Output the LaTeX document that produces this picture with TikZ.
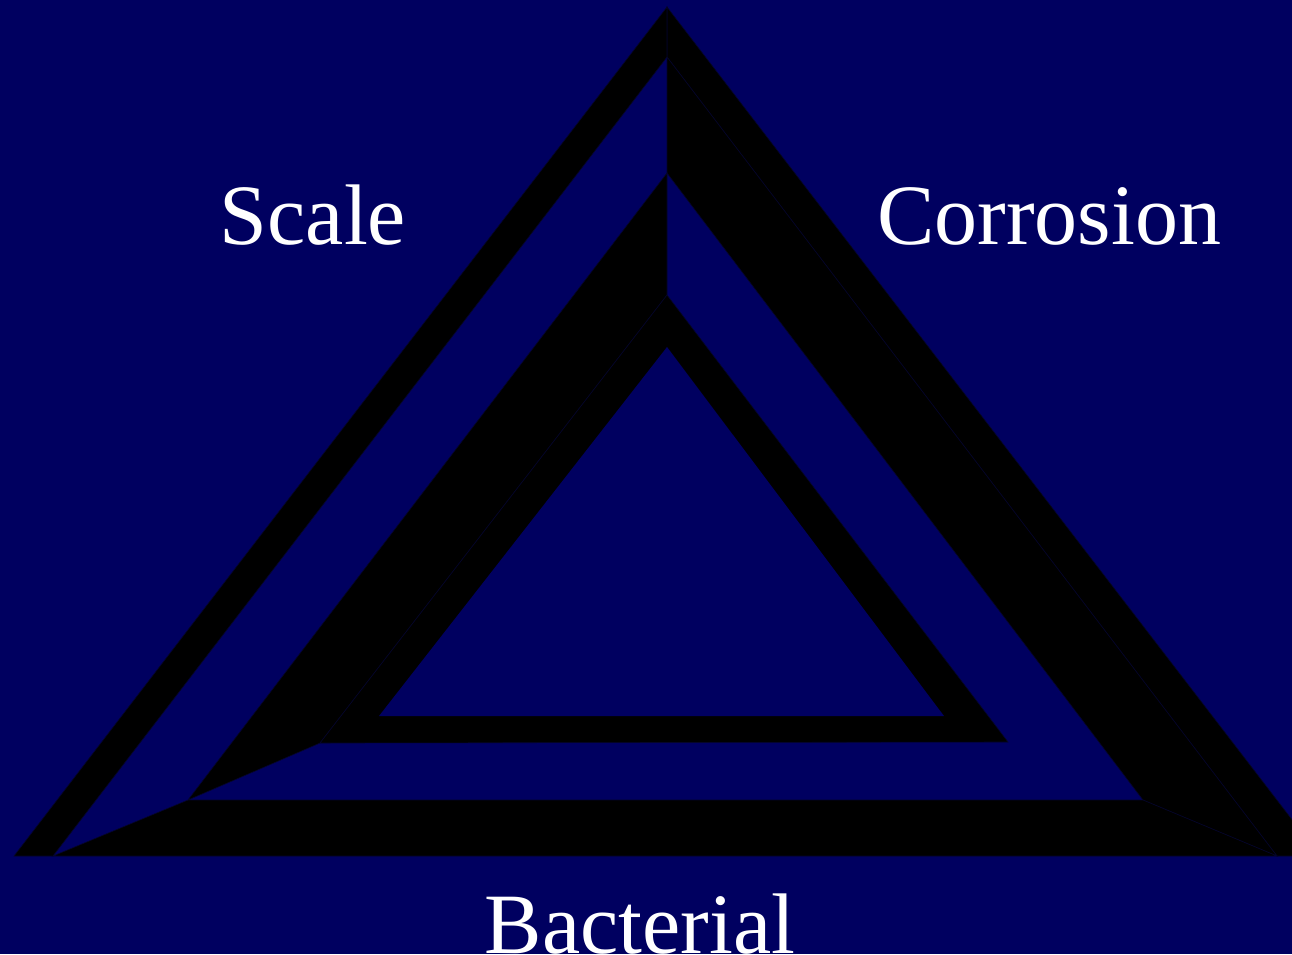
\documentclass[tikz,border=0pt]{standalone}
\usepackage{fontspec}
\setmainfont{Liberation Serif}
\definecolor{bgnavy}{HTML}{000060}
\definecolor{seam}{HTML}{05052A}
\begin{document}
\begin{tikzpicture}[x=1pt,y=-1pt,
  bar/.style={fill=black,draw=seam,line width=0.6pt,line join=miter},
  hole/.style={fill=bgnavy},
  lbl/.style={text=white,font=\fontsize{86}{90}\selectfont,anchor=base,inner sep=0pt}]
\fill[bgnavy] (0,0) rectangle (1292,954);
\useasboundingbox (0,0) rectangle (1292,954);
\begin{scope}
\clip (0,0) rectangle (1292,954);
% outer ring
\coordinate (apex) at (667,7);
\coordinate (oL) at (14,856);
\coordinate (oR) at (1320,856);
\coordinate (iTop) at (667,57);
\coordinate (iL) at (53,856);
\coordinate (sR) at (1277,856);
\coordinate (rIn) at (667,173);
\coordinate (rBot) at (1143,800);
\coordinate (bL) at (188,800);
% inner ring
\coordinate (jTop) at (667,295);
\coordinate (jR) at (1008,742);
\coordinate (jL) at (320,743);
\coordinate (cA) at (667,347);
\coordinate (cL) at (379,716);
\coordinate (cR) at (944,716);
% bars
\draw[bar] (apex) -- (oR) -- (sR) -- (iTop) -- cycle;
\draw[bar] (iTop) -- (sR) -- (rBot) -- (rIn) -- cycle;
\draw[bar] (iL) -- (bL) -- (rBot) -- (sR) -- cycle;
\draw[bar] (oL) -- (apex) -- (iTop) -- (iL) -- cycle;
\draw[bar] (bL) -- (rIn) -- (jTop) -- (jL) -- cycle;
\draw[bar] (jL) -- (jTop) -- (jR) -- cycle;
\fill[hole] (cA) -- (cR) -- (cL) -- cycle;
\end{scope}
\node[lbl] (scale) at (313,244) {Scale};
\node[lbl] (corr) at (1049,244) {Corrosion};
\node[lbl] (bact) at (640,953) {Bacterial};
\end{tikzpicture}
\end{document}
